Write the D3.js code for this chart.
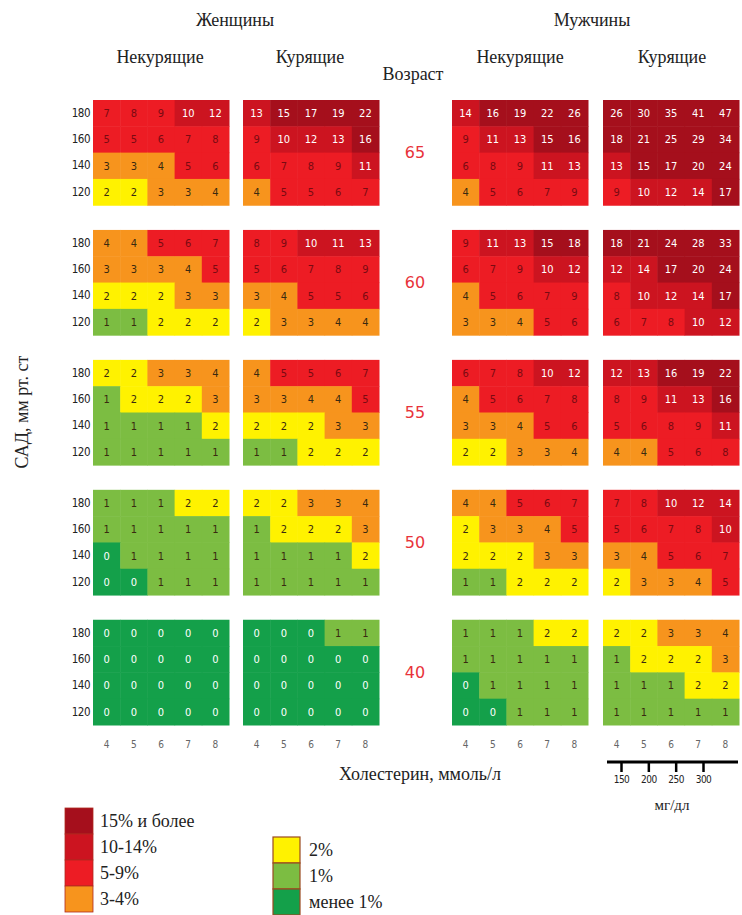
<!DOCTYPE html>
<html>
<head>
<meta charset="utf-8">
<script src="https://cdn.jsdelivr.net/npm/d3@7"></script>
<style>
  body { margin: 0; background: #fff; }
</style>
</head>
<body>
<svg id="chart" width="742" height="915"></svg>
<script>
// values: per age block (65,60,55,50,40), rows SBP 180..120, columns chol 4..8
const ages = [65, 60, 55, 50, 40];
const sbp = [180, 160, 140, 120];
const chol = [4, 5, 6, 7, 8];
const mgdl = [150, 200, 250, 300];

const womenNonSmoking = [
  [[7, 8, 9, 10, 12], [5, 5, 6, 7, 8], [3, 3, 4, 5, 6], [2, 2, 3, 3, 4]],
  [[4, 4, 5, 6, 7], [3, 3, 3, 4, 5], [2, 2, 2, 3, 3], [1, 1, 2, 2, 2]],
  [[2, 2, 3, 3, 4], [1, 2, 2, 2, 3], [1, 1, 1, 1, 2], [1, 1, 1, 1, 1]],
  [[1, 1, 1, 2, 2], [1, 1, 1, 1, 1], [0, 1, 1, 1, 1], [0, 0, 1, 1, 1]],
  [[0, 0, 0, 0, 0], [0, 0, 0, 0, 0], [0, 0, 0, 0, 0], [0, 0, 0, 0, 0]]
];
const womenSmoking = [
  [[13, 15, 17, 19, 22], [9, 10, 12, 13, 16], [6, 7, 8, 9, 11], [4, 5, 5, 6, 7]],
  [[8, 9, 10, 11, 13], [5, 6, 7, 8, 9], [3, 4, 5, 5, 6], [2, 3, 3, 4, 4]],
  [[4, 5, 5, 6, 7], [3, 3, 4, 4, 5], [2, 2, 2, 3, 3], [1, 1, 2, 2, 2]],
  [[2, 2, 3, 3, 4], [1, 2, 2, 2, 3], [1, 1, 1, 1, 2], [1, 1, 1, 1, 1]],
  [[0, 0, 0, 1, 1], [0, 0, 0, 0, 0], [0, 0, 0, 0, 0], [0, 0, 0, 0, 0]]
];
const menNonSmoking = [
  [[14, 16, 19, 22, 26], [9, 11, 13, 15, 16], [6, 8, 9, 11, 13], [4, 5, 6, 7, 9]],
  [[9, 11, 13, 15, 18], [6, 7, 9, 10, 12], [4, 5, 6, 7, 9], [3, 3, 4, 5, 6]],
  [[6, 7, 8, 10, 12], [4, 5, 6, 7, 8], [3, 3, 4, 5, 6], [2, 2, 3, 3, 4]],
  [[4, 4, 5, 6, 7], [2, 3, 3, 4, 5], [2, 2, 2, 3, 3], [1, 1, 2, 2, 2]],
  [[1, 1, 1, 2, 2], [1, 1, 1, 1, 1], [0, 1, 1, 1, 1], [0, 0, 1, 1, 1]]
];
const menSmoking = [
  [[26, 30, 35, 41, 47], [18, 21, 25, 29, 34], [13, 15, 17, 20, 24], [9, 10, 12, 14, 17]],
  [[18, 21, 24, 28, 33], [12, 14, 17, 20, 24], [8, 10, 12, 14, 17], [6, 7, 8, 10, 12]],
  [[12, 13, 16, 19, 22], [8, 9, 11, 13, 16], [5, 6, 8, 9, 11], [4, 4, 5, 6, 8]],
  [[7, 8, 10, 12, 14], [5, 6, 7, 8, 10], [3, 4, 5, 6, 7], [2, 3, 3, 4, 5]],
  [[2, 2, 3, 3, 4], [1, 2, 2, 2, 3], [1, 1, 1, 2, 2], [1, 1, 1, 1, 1]]
];

const riskColors = ["#14a04a", "#7cbd42", "#fff200", "#f7941d", "#ed1c24", "#cc1420", "#a50f1c"];
const legendLeft = ["15% и более", "10-14%", "5-9%", "3-4%"];
const legendRight = ["2%", "1%", "менее 1%"];

const SERIF = "'Liberation Serif', 'DejaVu Serif', serif";
const COND = "'DejaVu Sans Condensed', 'DejaVu Sans', sans-serif";

const svg = d3.select("#chart");
const color = d3.scaleThreshold().domain([1, 2, 3, 5, 10, 15]).range(riskColors);

const panels = [
  { data: womenNonSmoking, x0: 93 },
  { data: womenSmoking, x0: 243 },
  { data: menNonSmoking, x0: 452 },
  { data: menSmoking, x0: 603 }
];
const panelW = 136;

const yAge = d3.scaleBand().domain(ages).range([100, 725]).paddingInner(0.19);
const ySbp = d3.scaleBand().domain(sbp).range([0, yAge.bandwidth()]);

panels.forEach((p) => {
  const x = d3.scaleBand().domain(chol).range([p.x0, p.x0 + panelW]);
  const g = svg.append("g");
  ages.forEach((age, ai) => {
    const block = g.append("g").attr("transform", `translate(0,${yAge(age)})`);
    const cells = [];
    p.data[ai].forEach((row, ri) => row.forEach((v, ci) => cells.push({ v, s: sbp[ri], c: chol[ci] })));
    block.selectAll("rect")
      .data(cells)
      .join("rect")
      .attr("x", (d) => x(d.c))
      .attr("y", (d) => ySbp(d.s))
      .attr("width", x.bandwidth() + 0.5)
      .attr("height", ySbp.bandwidth() + 0.5)
      .attr("fill", (d) => color(d.v));
    block.selectAll("text")
      .data(cells)
      .join("text")
      .attr("x", (d) => x(d.c) + x.bandwidth() / 2)
      .attr("y", (d) => ySbp(d.s) + ySbp.bandwidth() / 2)
      .attr("dy", "0.36em")
      .attr("text-anchor", "middle")
      .style("font-family", COND)
      .style("font-size", "11px")
      .attr("fill", (d) => (d.v === 0 || d.v >= 10 ? "#fff" : d.v >= 5 ? "#7a0a12" : "#3a2a10"))
      .text((d) => d.v);
  });
  // cholesterol ticks
  g.append("g")
    .attr("transform", "translate(0,745)")
    .call(d3.axisBottom(x).tickSize(0))
    .call((a) => a.select(".domain").remove())
    .call((a) => a.selectAll("text").attr("fill", "#666").style("font-family", COND).style("font-size", "10px").attr("dy", "0"));
});

// SBP labels, left of first panel
ages.forEach((age) => {
  svg.append("g")
    .attr("transform", `translate(91,${yAge(age)})`)
    .call(d3.axisLeft(ySbp).tickSize(0).tickPadding(1))
    .call((a) => a.select(".domain").remove())
    .call((a) => a.selectAll("text").attr("fill", "#222").style("font-family", COND).style("font-size", "11.5px").style("letter-spacing", "-0.5px"));
});

// age labels
svg.append("g").selectAll("text")
  .data(ages)
  .join("text")
  .attr("x", 415)
  .attr("y", (d) => yAge(d) + yAge.bandwidth() / 2)
  .attr("dy", "0.36em")
  .attr("text-anchor", "middle")
  .attr("fill", "#e8333a")
  .style("font-family", "'DejaVu Sans', sans-serif")
  .style("font-size", "16px")
  .text((d) => d);

// headers
const headers = [
  { t: "Женщины", x: 235, y: 26 },
  { t: "Мужчины", x: 592, y: 26 },
  { t: "Некурящие", x: 160, y: 63 },
  { t: "Курящие", x: 310, y: 63 },
  { t: "Некурящие", x: 520, y: 63 },
  { t: "Курящие", x: 672, y: 63 },
  { t: "Возраст", x: 413, y: 80 },
  { t: "Холестерин, ммоль/л", x: 420, y: 780 }
];
svg.append("g").selectAll("text")
  .data(headers)
  .join("text")
  .attr("x", (d) => d.x)
  .attr("y", (d) => d.y)
  .attr("text-anchor", "middle")
  .attr("fill", "#222")
  .style("font-family", SERIF)
  .style("font-size", "18px")
  .text((d) => d.t);

svg.append("text")
  .attr("transform", "translate(28,412) rotate(-90)")
  .attr("text-anchor", "middle")
  .attr("fill", "#222")
  .style("font-family", SERIF)
  .style("font-size", "18px")
  .text("САД, мм рт. ст");

// mg/dl scale under men smokers
const xMg = d3.scaleLinear().domain([150, 300]).range([621, 703]);
const mg = svg.append("g").attr("transform", "translate(0,762)");
mg.append("line").attr("x1", 607).attr("x2", 738).attr("stroke", "#000").attr("stroke-width", 3);
mg.append("g")
  .call(d3.axisBottom(xMg).tickValues(mgdl).tickSize(10).tickPadding(4))
  .call((a) => a.select(".domain").remove())
  .call((a) => a.selectAll("line").attr("stroke-width", 2.5))
  .call((a) => a.selectAll("text").attr("fill", "#222").style("font-family", COND).style("font-size", "10px").style("letter-spacing", "-0.5px"));
svg.append("text")
  .attr("x", 672).attr("y", 810)
  .attr("text-anchor", "middle")
  .attr("fill", "#222")
  .style("font-family", SERIF)
  .style("font-size", "15px")
  .text("мг/дл");

// legend
const legH = 26;
const leg1 = svg.append("g").attr("transform", "translate(65,808)");
leg1.selectAll("rect")
  .data(legendLeft)
  .join("rect")
  .attr("y", (d, i) => i * legH)
  .attr("width", 28)
  .attr("height", legH)
  .attr("fill", (d, i) => riskColors[6 - i])
  .attr("stroke", "#b02a20")
  .attr("stroke-width", 0.8);
leg1.selectAll("text")
  .data(legendLeft)
  .join("text")
  .attr("x", 35)
  .attr("y", (d, i) => i * legH + legH / 2)
  .attr("dy", "0.36em")
  .attr("fill", "#222")
  .style("font-family", SERIF)
  .style("font-size", "18px")
  .text((d) => d);

const leg2 = svg.append("g").attr("transform", "translate(273,837)");
leg2.selectAll("rect")
  .data(legendRight)
  .join("rect")
  .attr("y", (d, i) => i * legH)
  .attr("width", 27)
  .attr("height", legH)
  .attr("fill", (d, i) => riskColors[2 - i])
  .attr("stroke", "#9a4a20")
  .attr("stroke-width", 1.2);
leg2.selectAll("text")
  .data(legendRight)
  .join("text")
  .attr("x", 36)
  .attr("y", (d, i) => i * legH + legH / 2)
  .attr("dy", "0.36em")
  .attr("fill", "#222")
  .style("font-family", SERIF)
  .style("font-size", "18px")
  .text((d) => d);
</script>
</body>
</html>
